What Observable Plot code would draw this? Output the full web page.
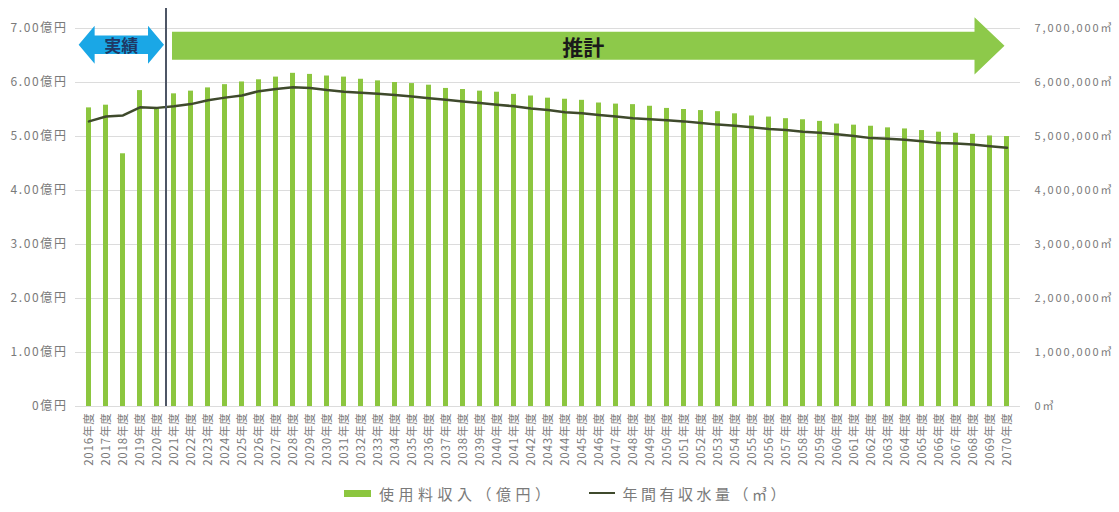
<!DOCTYPE html>
<html lang="ja">
<head>
<meta charset="utf-8">
<script src="https://cdn.jsdelivr.net/npm/d3@7"></script>
<script src="https://cdn.jsdelivr.net/npm/@observablehq/plot@0.6"></script>
<style>
  html, body { margin: 0; padding: 0; background: #fff; }
  body { width: 1119px; height: 512px; overflow: hidden; font-family: "Noto Sans CJK JP", "Noto Sans", sans-serif; }
  #legend { display: flex; justify-content: center; align-items: center; gap: 34px; height: 30px; color: #7a7a7a; font-size: 15px; padding-left: 14px; }
  #legend .item { display: flex; align-items: center; gap: 8px; }
  #legend .item:first-child { letter-spacing: 4.5px; }
  #legend .item:last-child { letter-spacing: 3.5px; }
  #legend .swatch-bar { width: 27px; height: 7px; background: #8cc63f; }
  #legend .swatch-line { width: 26px; height: 2.5px; background: #3f4a2c; }
  /* 軸ラベルの字間 */
  g[aria-label="y-axis tick label"][text-anchor="end"] text { letter-spacing: 1.6px; }
  g[aria-label="y-axis tick label"][text-anchor="start"] text { letter-spacing: 1.9px; }
  g[aria-label="x-axis tick label"] text { letter-spacing: 0.8px; }
</style>
</head>
<body>
<div id="chart"></div>
<div id="legend"></div>
<script>
// 年度（2016〜2020 実績、2021〜2070 推計）
const years = d3.range(2016, 2071).map(String);

// 使用料収入（億円）
const revenue = [
  5.53, 5.58, 4.68, 5.85, 5.52,
  5.79, 5.84, 5.90, 5.96, 6.01, 6.05, 6.10, 6.17, 6.15, 6.12,
  6.10, 6.06, 6.03, 6.00, 5.98, 5.95, 5.89, 5.87, 5.84, 5.82,
  5.78, 5.75, 5.71, 5.69, 5.67, 5.62, 5.60, 5.59, 5.56, 5.52,
  5.50, 5.48, 5.46, 5.42, 5.38, 5.36, 5.33, 5.31, 5.28, 5.23,
  5.21, 5.19, 5.16, 5.14, 5.11, 5.08, 5.06, 5.04, 5.01, 5.00
];

// 年間有収水量（㎥）
const volume = [
  5280000, 5370000, 5390000, 5540000, 5530000,
  5560000, 5600000, 5670000, 5720000, 5760000, 5840000, 5880000, 5910000, 5900000, 5860000,
  5830000, 5810000, 5790000, 5770000, 5740000, 5710000, 5680000, 5650000, 5620000, 5590000,
  5560000, 5520000, 5490000, 5450000, 5430000, 5400000, 5370000, 5340000, 5320000, 5300000,
  5280000, 5250000, 5220000, 5200000, 5170000, 5140000, 5120000, 5090000, 5070000, 5040000,
  5010000, 4970000, 4960000, 4940000, 4910000, 4880000, 4870000, 4850000, 4820000, 4790000
];

// 軸の目盛り（左：億円、右：㎥ ＝ 億円目盛り×1,000,000）
const revenueTicks = [0, 1, 2, 3, 4, 5, 6, 7];
const volumeTicks = [0, 1000000, 2000000, 3000000, 4000000, 5000000, 6000000, 7000000];

// 期間の区分
const phases = [
  {label: "実績", from: "2016", to: "2020"},
  {label: "推計", from: "2021", to: "2070"}
];

const seriesNames = ["使用料収入（億円）", "年間有収水量（㎥）"];

const volumeUnit = 1000000; // 右軸を左軸と同じ尺度で描くための換算
const rows = years.map((year, i) => ({year, revenue: revenue[i], volume: volume[i] / volumeUnit}));

const barColor = "#8cc63f";
const lineColor = "#3f4a2c";
const textColor = "#7a7a7a";

// 期間の矢印と区切り線
function phaseArrows(index, scales) {
  const x = scales.x, y = scales.y;
  const step = x(years[1]) - x(years[0]);
  const bw = typeof x.bandwidth === "function" ? x.bandwidth() : step * 0.32;
  const center = (yr) => x(yr) + bw / 2;
  const g = d3.create("svg:g");

  const [actual, forecast] = phases;
  const divider = (center(actual.to) + center(forecast.from)) / 2 + 1;

  // 実績：両方向の矢印
  const aL = center(actual.from) - step * 0.58, aR = divider - 2;
  const aC = y(6.69), aBody = y(6.69) - y(6.86), aHead = y(6.69) - y(7.04), aHL = 16;
  g.append("path")
    .attr("d", `M${aL},${aC} L${aL + aHL},${aC - aHead} L${aL + aHL},${aC - aBody} L${aR - aHL},${aC - aBody} L${aR - aHL},${aC - aHead} L${aR},${aC} L${aR - aHL},${aC + aHead} L${aR - aHL},${aC + aBody} L${aL + aHL},${aC + aBody} L${aL + aHL},${aC + aHead} Z`)
    .attr("fill", "#1aa7e6");
  g.append("text")
    .attr("x", (aL + aR) / 2).attr("y", aC)
    .attr("text-anchor", "middle").attr("dominant-baseline", "central")
    .attr("font-size", 17).attr("font-weight", "bold").attr("fill", "#1f3864")
    .text(actual.label);

  // 推計：右向きの矢印
  const fL = divider + 6, fR = center(forecast.to) - 2;
  const fC = y(6.67), fBody = y(6.67) - y(6.93), fHead = y(6.67) - y(7.2), fHL = 30;
  g.append("path")
    .attr("d", `M${fL},${fC - fBody} L${fR - fHL},${fC - fBody} L${fR - fHL},${fC - fHead} L${fR},${fC} L${fR - fHL},${fC + fHead} L${fR - fHL},${fC + fBody} L${fL},${fC + fBody} Z`)
    .attr("fill", "#8dc94a");
  g.append("text")
    .attr("x", (fL + fR) / 2 - 5).attr("y", fC)
    .attr("text-anchor", "middle").attr("dominant-baseline", "central")
    .attr("font-size", 21).attr("font-weight", "bold").attr("fill", "#1a1a1a")
    .text(forecast.label);

  // 実績と推計の区切り線
  g.append("line")
    .attr("x1", divider).attr("x2", divider)
    .attr("y1", y(7.37)).attr("y2", y(0))
    .attr("stroke", "#4e5666").attr("stroke-width", 2);

  return g.node();
}

const chart = Plot.plot({
  width: 1119,
  height: 478,
  marginLeft: 75,
  marginRight: 99,
  marginTop: 28,
  marginBottom: 72,
  style: {fontFamily: "'Noto Sans CJK JP', sans-serif", color: textColor, background: "#fff"},
  x: {type: "band", domain: years, paddingInner: 0.68, paddingOuter: 0.6},
  y: {domain: [0, 7]},
  marks: [
    Plot.gridY(revenueTicks, {stroke: "#dcdcdc", strokeOpacity: 1}),
    Plot.barY(rows, {x: "year", y: "revenue", fill: barColor}),
    Plot.line(rows, {x: "year", y: "volume", stroke: lineColor, strokeWidth: 2.5}),
    Plot.axisY(revenueTicks, {
      anchor: "left", tickSize: 0, tickPadding: 8, fontSize: 12, label: null,
      tickFormat: (d) => d === 0 ? "0億円" : d.toFixed(2) + "億円"
    }),
    Plot.axisY(volumeTicks.map((v) => v / volumeUnit), {
      anchor: "right", tickSize: 0, tickPadding: 14, fontSize: 11, label: null,
      tickFormat: (d) => d3.format(",")(Math.round(d * volumeUnit)) + "㎥"
    }),
    Plot.axisX({
      tickRotate: -90, tickSize: 0, tickPadding: 6, fontSize: 11.5, label: null,
      tickFormat: (d) => d + "年度"
    }),
    phaseArrows
  ]
});

document.getElementById("chart").append(chart);

document.getElementById("legend").innerHTML =
  `<div class="item"><span class="swatch-bar"></span><span>${seriesNames[0]}</span></div>` +
  `<div class="item"><span class="swatch-line"></span><span>${seriesNames[1]}</span></div>`;
</script>
</body>
</html>
